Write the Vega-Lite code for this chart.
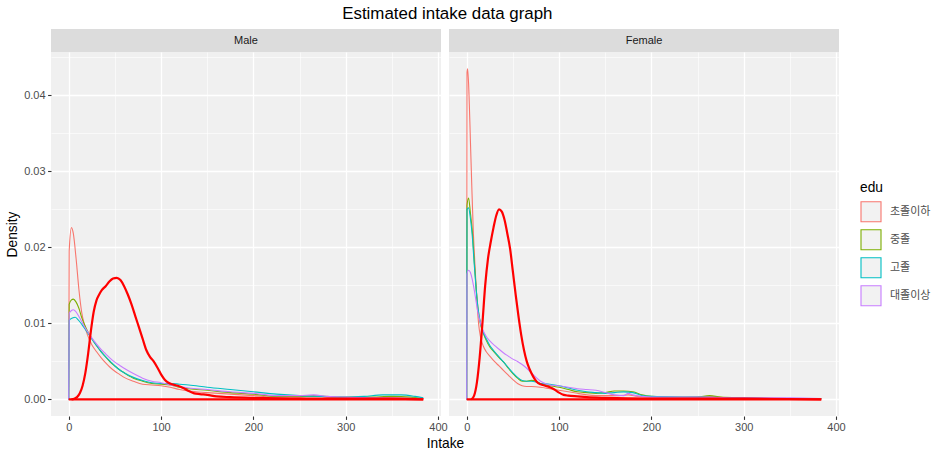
{
 "$schema": "https://vega.github.io/schema/vega-lite/v6.json",
 "padding": {"left": 5, "top": 5, "right": 5, "bottom": 5},
 "title": {"text": "Estimated intake data graph", "fontSize": 16.9, "font": "Liberation Sans", "fontWeight": "normal", "color": "black", "anchor": "middle", "offset": 6, "dx": -21},
 "config": {
  "view": {"stroke": null},
  "font": "Liberation Sans",
  "axis": {"gridColor": "white", "domain": false, "tickColor": "#333333", "tickSize": 3.4, "tickWidth": 1.1, "labelColor": "#4D4D4D", "labelFontSize": 11, "labelFont": "Liberation Sans", "labelPadding": 2.5, "titleFontSize": 13.75, "titleColor": "black", "titleFontWeight": "normal", "titleFont": "Liberation Sans"},
  "legend": {"orient": "none", "legendX": 809, "legendY": 152, "padding": 0, "titleFontSize": 13.75, "titleFont": "Liberation Sans", "titleFontWeight": "normal", "titleColor": "black", "titlePadding": 6, "labelFont": "Noto Sans CJK KR", "labelFontSize": 11, "labelColor": "#4D4D4D", "symbolType": "square", "symbolSize": 400, "symbolStrokeWidth": 1.1, "symbolFillColor": "#F2F2F2", "symbolOpacity": 1, "rowPadding": 2, "labelOffset": 8}
 },
 "datasets": {
  "base": [{"sex": "Male", "x": 0, "x2": 384, "d": 0}, {"sex": "Female", "x": 0, "x2": 384, "d": 0}],
  "edu": [
   {"sex":"Male","edu":"초졸이하","x":0,"d":0},{"sex":"Male","edu":"초졸이하","x":0.5,"d":0.0195},{"sex":"Male","edu":"초졸이하","x":3,"d":0.0226},{"sex":"Male","edu":"초졸이하","x":5,"d":0.0218},{"sex":"Male","edu":"초졸이하","x":8,"d":0.0185},{"sex":"Male","edu":"초졸이하","x":11,"d":0.0145},{"sex":"Male","edu":"초졸이하","x":14,"d":0.0115},{"sex":"Male","edu":"초졸이하","x":17,"d":0.0098},{"sex":"Male","edu":"초졸이하","x":20,"d":0.0086},{"sex":"Male","edu":"초졸이하","x":25,"d":0.0072},{"sex":"Male","edu":"초졸이하","x":30,"d":0.0063},{"sex":"Male","edu":"초졸이하","x":35,"d":0.0055},{"sex":"Male","edu":"초졸이하","x":40,"d":0.0048},{"sex":"Male","edu":"초졸이하","x":45,"d":0.0042},{"sex":"Male","edu":"초졸이하","x":50,"d":0.0037},{"sex":"Male","edu":"초졸이하","x":55,"d":0.0033},{"sex":"Male","edu":"초졸이하","x":60,"d":0.0029},{"sex":"Male","edu":"초졸이하","x":70,"d":0.0024},{"sex":"Male","edu":"초졸이하","x":80,"d":0.002},{"sex":"Male","edu":"초졸이하","x":90,"d":0.0019},{"sex":"Male","edu":"초졸이하","x":100,"d":0.0018},{"sex":"Male","edu":"초졸이하","x":110,"d":0.0016},{"sex":"Male","edu":"초졸이하","x":120,"d":0.0013},{"sex":"Male","edu":"초졸이하","x":130,"d":0.0011},{"sex":"Male","edu":"초졸이하","x":150,"d":0.0009},{"sex":"Male","edu":"초졸이하","x":175,"d":0.0007},{"sex":"Male","edu":"초졸이하","x":200,"d":0.0005},{"sex":"Male","edu":"초졸이하","x":225,"d":0.0003},{"sex":"Male","edu":"초졸이하","x":250,"d":0.0003},{"sex":"Male","edu":"초졸이하","x":265,"d":0.0005},{"sex":"Male","edu":"초졸이하","x":280,"d":0.0003},{"sex":"Male","edu":"초졸이하","x":300,"d":0.0002},{"sex":"Male","edu":"초졸이하","x":340,"d":0.0002},{"sex":"Male","edu":"초졸이하","x":384,"d":0.0001},
   {"sex":"Male","edu":"중졸","x":0,"d":0},{"sex":"Male","edu":"중졸","x":0.5,"d":0.0125},{"sex":"Male","edu":"중졸","x":3,"d":0.0131},{"sex":"Male","edu":"중졸","x":5,"d":0.0132},{"sex":"Male","edu":"중졸","x":8,"d":0.0128},{"sex":"Male","edu":"중졸","x":11,"d":0.012},{"sex":"Male","edu":"중졸","x":14,"d":0.0108},{"sex":"Male","edu":"중졸","x":18,"d":0.0096},{"sex":"Male","edu":"중졸","x":22,"d":0.0086},{"sex":"Male","edu":"중졸","x":26,"d":0.0078},{"sex":"Male","edu":"중졸","x":30,"d":0.0071},{"sex":"Male","edu":"중졸","x":35,"d":0.0063},{"sex":"Male","edu":"중졸","x":40,"d":0.0056},{"sex":"Male","edu":"중졸","x":45,"d":0.0049},{"sex":"Male","edu":"중졸","x":50,"d":0.0044},{"sex":"Male","edu":"중졸","x":55,"d":0.0039},{"sex":"Male","edu":"중졸","x":60,"d":0.0035},{"sex":"Male","edu":"중졸","x":65,"d":0.0031},{"sex":"Male","edu":"중졸","x":70,"d":0.0028},{"sex":"Male","edu":"중졸","x":80,"d":0.0024},{"sex":"Male","edu":"중졸","x":90,"d":0.0021},{"sex":"Male","edu":"중졸","x":100,"d":0.002},{"sex":"Male","edu":"중졸","x":110,"d":0.0019},{"sex":"Male","edu":"중졸","x":120,"d":0.0016},{"sex":"Male","edu":"중졸","x":130,"d":0.0014},{"sex":"Male","edu":"중졸","x":150,"d":0.0012},{"sex":"Male","edu":"중졸","x":175,"d":0.0009},{"sex":"Male","edu":"중졸","x":200,"d":0.0007},{"sex":"Male","edu":"중졸","x":225,"d":0.0004},{"sex":"Male","edu":"중졸","x":250,"d":0.0004},{"sex":"Male","edu":"중졸","x":275,"d":0.0004},{"sex":"Male","edu":"중졸","x":300,"d":0.0003},{"sex":"Male","edu":"중졸","x":325,"d":0.0003},{"sex":"Male","edu":"중졸","x":350,"d":0.0004},{"sex":"Male","edu":"중졸","x":370,"d":0.0003},{"sex":"Male","edu":"중졸","x":384,"d":0.0001},
   {"sex":"Male","edu":"고졸","x":0,"d":0},{"sex":"Male","edu":"고졸","x":0.5,"d":0.0104},{"sex":"Male","edu":"고졸","x":4,"d":0.0107},{"sex":"Male","edu":"고졸","x":7,"d":0.0108},{"sex":"Male","edu":"고졸","x":10,"d":0.0105},{"sex":"Male","edu":"고졸","x":14,"d":0.0099},{"sex":"Male","edu":"고졸","x":18,"d":0.0092},{"sex":"Male","edu":"고졸","x":22,"d":0.0085},{"sex":"Male","edu":"고졸","x":26,"d":0.0078},{"sex":"Male","edu":"고졸","x":30,"d":0.0071},{"sex":"Male","edu":"고졸","x":35,"d":0.0063},{"sex":"Male","edu":"고졸","x":40,"d":0.0056},{"sex":"Male","edu":"고졸","x":45,"d":0.005},{"sex":"Male","edu":"고졸","x":50,"d":0.0044},{"sex":"Male","edu":"고졸","x":55,"d":0.0039},{"sex":"Male","edu":"고졸","x":60,"d":0.0035},{"sex":"Male","edu":"고졸","x":70,"d":0.0029},{"sex":"Male","edu":"고졸","x":80,"d":0.0025},{"sex":"Male","edu":"고졸","x":90,"d":0.0022},{"sex":"Male","edu":"고졸","x":100,"d":0.0021},{"sex":"Male","edu":"고졸","x":110,"d":0.0021},{"sex":"Male","edu":"고졸","x":120,"d":0.002},{"sex":"Male","edu":"고졸","x":130,"d":0.0019},{"sex":"Male","edu":"고졸","x":150,"d":0.0016},{"sex":"Male","edu":"고졸","x":175,"d":0.0013},{"sex":"Male","edu":"고졸","x":200,"d":0.001},{"sex":"Male","edu":"고졸","x":225,"d":0.0007},{"sex":"Male","edu":"고졸","x":250,"d":0.0005},{"sex":"Male","edu":"고졸","x":275,"d":0.0004},{"sex":"Male","edu":"고졸","x":300,"d":0.0003},{"sex":"Male","edu":"고졸","x":320,"d":0.0004},{"sex":"Male","edu":"고졸","x":340,"d":0.0006},{"sex":"Male","edu":"고졸","x":360,"d":0.0006},{"sex":"Male","edu":"고졸","x":375,"d":0.0004},{"sex":"Male","edu":"고졸","x":384,"d":0.0002},
   {"sex":"Male","edu":"대졸이상","x":0,"d":0},{"sex":"Male","edu":"대졸이상","x":0.5,"d":0.0113},{"sex":"Male","edu":"대졸이상","x":3,"d":0.0117},{"sex":"Male","edu":"대졸이상","x":5,"d":0.0118},{"sex":"Male","edu":"대졸이상","x":8,"d":0.0115},{"sex":"Male","edu":"대졸이상","x":12,"d":0.0107},{"sex":"Male","edu":"대졸이상","x":16,"d":0.0098},{"sex":"Male","edu":"대졸이상","x":20,"d":0.009},{"sex":"Male","edu":"대졸이상","x":25,"d":0.0081},{"sex":"Male","edu":"대졸이상","x":30,"d":0.0073},{"sex":"Male","edu":"대졸이상","x":35,"d":0.0066},{"sex":"Male","edu":"대졸이상","x":40,"d":0.006},{"sex":"Male","edu":"대졸이상","x":45,"d":0.0054},{"sex":"Male","edu":"대졸이상","x":50,"d":0.0049},{"sex":"Male","edu":"대졸이상","x":55,"d":0.0045},{"sex":"Male","edu":"대졸이상","x":60,"d":0.0041},{"sex":"Male","edu":"대졸이상","x":70,"d":0.0034},{"sex":"Male","edu":"대졸이상","x":80,"d":0.0028},{"sex":"Male","edu":"대졸이상","x":90,"d":0.0024},{"sex":"Male","edu":"대졸이상","x":100,"d":0.0022},{"sex":"Male","edu":"대졸이상","x":110,"d":0.0019},{"sex":"Male","edu":"대졸이상","x":120,"d":0.0017},{"sex":"Male","edu":"대졸이상","x":130,"d":0.0015},{"sex":"Male","edu":"대졸이상","x":150,"d":0.0013},{"sex":"Male","edu":"대졸이상","x":175,"d":0.001},{"sex":"Male","edu":"대졸이상","x":200,"d":0.0008},{"sex":"Male","edu":"대졸이상","x":225,"d":0.0005},{"sex":"Male","edu":"대졸이상","x":250,"d":0.0005},{"sex":"Male","edu":"대졸이상","x":265,"d":0.0006},{"sex":"Male","edu":"대졸이상","x":280,"d":0.0004},{"sex":"Male","edu":"대졸이상","x":300,"d":0.0003},{"sex":"Male","edu":"대졸이상","x":340,"d":0.0002},{"sex":"Male","edu":"대졸이상","x":384,"d":0.0001},
   {"sex":"Female","edu":"초졸이하","x":0,"d":0},{"sex":"Female","edu":"초졸이하","x":0.3,"d":0.043},{"sex":"Female","edu":"초졸이하","x":1,"d":0.0435},{"sex":"Female","edu":"초졸이하","x":2.5,"d":0.04},{"sex":"Female","edu":"초졸이하","x":4,"d":0.034},{"sex":"Female","edu":"초졸이하","x":5.5,"d":0.028},{"sex":"Female","edu":"초졸이하","x":7,"d":0.0225},{"sex":"Female","edu":"초졸이하","x":9,"d":0.0175},{"sex":"Female","edu":"초졸이하","x":11,"d":0.013},{"sex":"Female","edu":"초졸이하","x":13,"d":0.0098},{"sex":"Female","edu":"초졸이하","x":15,"d":0.0082},{"sex":"Female","edu":"초졸이하","x":18,"d":0.007},{"sex":"Female","edu":"초졸이하","x":21,"d":0.0063},{"sex":"Female","edu":"초졸이하","x":25,"d":0.0057},{"sex":"Female","edu":"초졸이하","x":30,"d":0.005},{"sex":"Female","edu":"초졸이하","x":35,"d":0.0044},{"sex":"Female","edu":"초졸이하","x":40,"d":0.0038},{"sex":"Female","edu":"초졸이하","x":45,"d":0.0032},{"sex":"Female","edu":"초졸이하","x":50,"d":0.0026},{"sex":"Female","edu":"초졸이하","x":55,"d":0.0021},{"sex":"Female","edu":"초졸이하","x":60,"d":0.0018},{"sex":"Female","edu":"초졸이하","x":65,"d":0.0017},{"sex":"Female","edu":"초졸이하","x":70,"d":0.0017},{"sex":"Female","edu":"초졸이하","x":80,"d":0.0016},{"sex":"Female","edu":"초졸이하","x":90,"d":0.0014},{"sex":"Female","edu":"초졸이하","x":100,"d":0.0012},{"sex":"Female","edu":"초졸이하","x":110,"d":0.001},{"sex":"Female","edu":"초졸이하","x":120,"d":0.0008},{"sex":"Female","edu":"초졸이하","x":130,"d":0.0006},{"sex":"Female","edu":"초졸이하","x":140,"d":0.0005},{"sex":"Female","edu":"초졸이하","x":150,"d":0.0005},{"sex":"Female","edu":"초졸이하","x":165,"d":0.0005},{"sex":"Female","edu":"초졸이하","x":175,"d":0.0006},{"sex":"Female","edu":"초졸이하","x":185,"d":0.0004},{"sex":"Female","edu":"초졸이하","x":200,"d":0.0003},{"sex":"Female","edu":"초졸이하","x":230,"d":0.0002},{"sex":"Female","edu":"초졸이하","x":265,"d":0.0004},{"sex":"Female","edu":"초졸이하","x":280,"d":0.0002},{"sex":"Female","edu":"초졸이하","x":300,"d":0.0002},{"sex":"Female","edu":"초졸이하","x":350,"d":0.0001},{"sex":"Female","edu":"초졸이하","x":384,"d":0.0001},
   {"sex":"Female","edu":"중졸","x":0,"d":0},{"sex":"Female","edu":"중졸","x":0.3,"d":0.0255},{"sex":"Female","edu":"중졸","x":2,"d":0.0265},{"sex":"Female","edu":"중졸","x":4,"d":0.0245},{"sex":"Female","edu":"중졸","x":6,"d":0.0222},{"sex":"Female","edu":"중졸","x":8,"d":0.0185},{"sex":"Female","edu":"중졸","x":10,"d":0.015},{"sex":"Female","edu":"중졸","x":12,"d":0.0122},{"sex":"Female","edu":"중졸","x":15,"d":0.0098},{"sex":"Female","edu":"중졸","x":18,"d":0.0087},{"sex":"Female","edu":"중졸","x":21,"d":0.0078},{"sex":"Female","edu":"중졸","x":25,"d":0.0069},{"sex":"Female","edu":"중졸","x":30,"d":0.0062},{"sex":"Female","edu":"중졸","x":35,"d":0.0055},{"sex":"Female","edu":"중졸","x":40,"d":0.0049},{"sex":"Female","edu":"중졸","x":45,"d":0.0041},{"sex":"Female","edu":"중졸","x":50,"d":0.0034},{"sex":"Female","edu":"중졸","x":55,"d":0.0028},{"sex":"Female","edu":"중졸","x":60,"d":0.0024},{"sex":"Female","edu":"중졸","x":65,"d":0.0024},{"sex":"Female","edu":"중졸","x":70,"d":0.0025},{"sex":"Female","edu":"중졸","x":75,"d":0.0024},{"sex":"Female","edu":"중졸","x":80,"d":0.0021},{"sex":"Female","edu":"중졸","x":90,"d":0.0018},{"sex":"Female","edu":"중졸","x":100,"d":0.0016},{"sex":"Female","edu":"중졸","x":110,"d":0.0013},{"sex":"Female","edu":"중졸","x":120,"d":0.001},{"sex":"Female","edu":"중졸","x":130,"d":0.0009},{"sex":"Female","edu":"중졸","x":140,"d":0.0008},{"sex":"Female","edu":"중졸","x":150,"d":0.0009},{"sex":"Female","edu":"중졸","x":160,"d":0.0011},{"sex":"Female","edu":"중졸","x":170,"d":0.0011},{"sex":"Female","edu":"중졸","x":180,"d":0.001},{"sex":"Female","edu":"중졸","x":190,"d":0.0006},{"sex":"Female","edu":"중졸","x":200,"d":0.0004},{"sex":"Female","edu":"중졸","x":220,"d":0.0003},{"sex":"Female","edu":"중졸","x":250,"d":0.0003},{"sex":"Female","edu":"중졸","x":263,"d":0.0005},{"sex":"Female","edu":"중졸","x":275,"d":0.0003},{"sex":"Female","edu":"중졸","x":300,"d":0.0002},{"sex":"Female","edu":"중졸","x":350,"d":0.0001},{"sex":"Female","edu":"중졸","x":384,"d":0.0001},
   {"sex":"Female","edu":"고졸","x":0,"d":0},{"sex":"Female","edu":"고졸","x":0.3,"d":0.025},{"sex":"Female","edu":"고졸","x":2,"d":0.0252},{"sex":"Female","edu":"고졸","x":4,"d":0.0238},{"sex":"Female","edu":"고졸","x":6,"d":0.0215},{"sex":"Female","edu":"고졸","x":8,"d":0.018},{"sex":"Female","edu":"고졸","x":10,"d":0.0148},{"sex":"Female","edu":"고졸","x":12,"d":0.0122},{"sex":"Female","edu":"고졸","x":15,"d":0.01},{"sex":"Female","edu":"고졸","x":18,"d":0.0088},{"sex":"Female","edu":"고졸","x":21,"d":0.008},{"sex":"Female","edu":"고졸","x":25,"d":0.0071},{"sex":"Female","edu":"고졸","x":30,"d":0.0063},{"sex":"Female","edu":"고졸","x":35,"d":0.0056},{"sex":"Female","edu":"고졸","x":40,"d":0.0049},{"sex":"Female","edu":"고졸","x":45,"d":0.0042},{"sex":"Female","edu":"고졸","x":50,"d":0.0035},{"sex":"Female","edu":"고졸","x":55,"d":0.0029},{"sex":"Female","edu":"고졸","x":60,"d":0.0025},{"sex":"Female","edu":"고졸","x":65,"d":0.0024},{"sex":"Female","edu":"고졸","x":70,"d":0.0024},{"sex":"Female","edu":"고졸","x":75,"d":0.0023},{"sex":"Female","edu":"고졸","x":80,"d":0.0021},{"sex":"Female","edu":"고졸","x":90,"d":0.002},{"sex":"Female","edu":"고졸","x":100,"d":0.0018},{"sex":"Female","edu":"고졸","x":110,"d":0.0015},{"sex":"Female","edu":"고졸","x":120,"d":0.0012},{"sex":"Female","edu":"고졸","x":130,"d":0.001},{"sex":"Female","edu":"고졸","x":140,"d":0.0009},{"sex":"Female","edu":"고졸","x":150,"d":0.0008},{"sex":"Female","edu":"고졸","x":160,"d":0.0009},{"sex":"Female","edu":"고졸","x":170,"d":0.001},{"sex":"Female","edu":"고졸","x":180,"d":0.0009},{"sex":"Female","edu":"고졸","x":190,"d":0.0005},{"sex":"Female","edu":"고졸","x":200,"d":0.0004},{"sex":"Female","edu":"고졸","x":250,"d":0.0003},{"sex":"Female","edu":"고졸","x":300,"d":0.0002},{"sex":"Female","edu":"고졸","x":350,"d":0.0001},{"sex":"Female","edu":"고졸","x":384,"d":0.0001},
   {"sex":"Female","edu":"대졸이상","x":0,"d":0},{"sex":"Female","edu":"대졸이상","x":0.3,"d":0.0165},{"sex":"Female","edu":"대졸이상","x":2,"d":0.017},{"sex":"Female","edu":"대졸이상","x":4,"d":0.0167},{"sex":"Female","edu":"대졸이상","x":6,"d":0.0158},{"sex":"Female","edu":"대졸이상","x":8,"d":0.0145},{"sex":"Female","edu":"대졸이상","x":10,"d":0.013},{"sex":"Female","edu":"대졸이상","x":12,"d":0.0115},{"sex":"Female","edu":"대졸이상","x":15,"d":0.01},{"sex":"Female","edu":"대졸이상","x":18,"d":0.009},{"sex":"Female","edu":"대졸이상","x":21,"d":0.0083},{"sex":"Female","edu":"대졸이상","x":25,"d":0.0077},{"sex":"Female","edu":"대졸이상","x":30,"d":0.0071},{"sex":"Female","edu":"대졸이상","x":35,"d":0.0066},{"sex":"Female","edu":"대졸이상","x":40,"d":0.0061},{"sex":"Female","edu":"대졸이상","x":45,"d":0.0057},{"sex":"Female","edu":"대졸이상","x":50,"d":0.0053},{"sex":"Female","edu":"대졸이상","x":55,"d":0.005},{"sex":"Female","edu":"대졸이상","x":60,"d":0.0046},{"sex":"Female","edu":"대졸이상","x":65,"d":0.0041},{"sex":"Female","edu":"대졸이상","x":70,"d":0.0035},{"sex":"Female","edu":"대졸이상","x":75,"d":0.0029},{"sex":"Female","edu":"대졸이상","x":80,"d":0.0024},{"sex":"Female","edu":"대졸이상","x":85,"d":0.0021},{"sex":"Female","edu":"대졸이상","x":90,"d":0.0019},{"sex":"Female","edu":"대졸이상","x":100,"d":0.0018},{"sex":"Female","edu":"대졸이상","x":110,"d":0.0016},{"sex":"Female","edu":"대졸이상","x":120,"d":0.0014},{"sex":"Female","edu":"대졸이상","x":130,"d":0.0013},{"sex":"Female","edu":"대졸이상","x":140,"d":0.0012},{"sex":"Female","edu":"대졸이상","x":150,"d":0.0009},{"sex":"Female","edu":"대졸이상","x":160,"d":0.0006},{"sex":"Female","edu":"대졸이상","x":170,"d":0.0005},{"sex":"Female","edu":"대졸이상","x":175,"d":0.0008},{"sex":"Female","edu":"대졸이상","x":180,"d":0.0006},{"sex":"Female","edu":"대졸이상","x":190,"d":0.0004},{"sex":"Female","edu":"대졸이상","x":200,"d":0.0003},{"sex":"Female","edu":"대졸이상","x":250,"d":0.0003},{"sex":"Female","edu":"대졸이상","x":300,"d":0.0002},{"sex":"Female","edu":"대졸이상","x":350,"d":0.0002},{"sex":"Female","edu":"대졸이상","x":384,"d":0.0001}
  ],
  "est": [
   {"sex":"Male","x":3,"d":0},{"sex":"Male","x":6,"d":0.0001},{"sex":"Male","x":9,"d":0.0003},{"sex":"Male","x":12,"d":0.0008},{"sex":"Male","x":15,"d":0.0018},{"sex":"Male","x":18,"d":0.0035},{"sex":"Male","x":21,"d":0.006},{"sex":"Male","x":24,"d":0.009},{"sex":"Male","x":27,"d":0.0115},{"sex":"Male","x":30,"d":0.013},{"sex":"Male","x":33,"d":0.0138},{"sex":"Male","x":36,"d":0.0144},{"sex":"Male","x":40,"d":0.0149},{"sex":"Male","x":44,"d":0.0155},{"sex":"Male","x":48,"d":0.0159},{"sex":"Male","x":52,"d":0.016},{"sex":"Male","x":56,"d":0.0157},{"sex":"Male","x":60,"d":0.0149},{"sex":"Male","x":64,"d":0.0138},{"sex":"Male","x":68,"d":0.0125},{"sex":"Male","x":72,"d":0.011},{"sex":"Male","x":76,"d":0.0095},{"sex":"Male","x":80,"d":0.008},{"sex":"Male","x":84,"d":0.0065},{"sex":"Male","x":88,"d":0.0056},{"sex":"Male","x":92,"d":0.005},{"sex":"Male","x":96,"d":0.0042},{"sex":"Male","x":100,"d":0.0033},{"sex":"Male","x":104,"d":0.0026},{"sex":"Male","x":108,"d":0.0022},{"sex":"Male","x":112,"d":0.002},{"sex":"Male","x":118,"d":0.0018},{"sex":"Male","x":124,"d":0.0015},{"sex":"Male","x":130,"d":0.0011},{"sex":"Male","x":136,"d":0.0008},{"sex":"Male","x":142,"d":0.0007},{"sex":"Male","x":150,"d":0.0006},{"sex":"Male","x":160,"d":0.0004},{"sex":"Male","x":175,"d":0.0003},{"sex":"Male","x":200,"d":0.0002},{"sex":"Male","x":250,"d":0.0001},{"sex":"Male","x":300,"d":0.0001},{"sex":"Male","x":350,"d":0.0001},{"sex":"Male","x":384,"d":0},
   {"sex":"Female","x":5,"d":0},{"sex":"Female","x":8,"d":0.0005},{"sex":"Female","x":11,"d":0.0022},{"sex":"Female","x":14,"d":0.0055},{"sex":"Female","x":17,"d":0.01},{"sex":"Female","x":20,"d":0.015},{"sex":"Female","x":23,"d":0.0185},{"sex":"Female","x":26,"d":0.0207},{"sex":"Female","x":29,"d":0.0226},{"sex":"Female","x":32,"d":0.0242},{"sex":"Female","x":35,"d":0.025},{"sex":"Female","x":38,"d":0.0247},{"sex":"Female","x":41,"d":0.0236},{"sex":"Female","x":44,"d":0.0218},{"sex":"Female","x":47,"d":0.0198},{"sex":"Female","x":50,"d":0.0168},{"sex":"Female","x":53,"d":0.0138},{"sex":"Female","x":56,"d":0.011},{"sex":"Female","x":59,"d":0.0085},{"sex":"Female","x":62,"d":0.0065},{"sex":"Female","x":65,"d":0.005},{"sex":"Female","x":68,"d":0.004},{"sex":"Female","x":72,"d":0.003},{"sex":"Female","x":76,"d":0.0023},{"sex":"Female","x":80,"d":0.002},{"sex":"Female","x":85,"d":0.0018},{"sex":"Female","x":90,"d":0.0016},{"sex":"Female","x":95,"d":0.0013},{"sex":"Female","x":100,"d":0.0009},{"sex":"Female","x":105,"d":0.0006},{"sex":"Female","x":110,"d":0.0005},{"sex":"Female","x":120,"d":0.0004},{"sex":"Female","x":130,"d":0.0003},{"sex":"Female","x":150,"d":0.0002},{"sex":"Female","x":200,"d":0.0001},{"sex":"Female","x":300,"d":0.0001},{"sex":"Female","x":384,"d":0}
  ]
 },
 "columns": 2,
 "spacing": {"row": 0, "column": 8},
 "bounds": "flush",
 "concat": [
  {"width": 390, "height": 23, "data": {"values": [{"s": "Male"}]}, "view": {"fill": "#DCDCDC", "stroke": null},
   "mark": {"type": "text", "fontSize": 11, "color": "#1A1A1A", "font": "Liberation Sans"}, "encoding": {"text": {"field": "s"}}},
  {"width": 390, "height": 23, "data": {"values": [{"s": "Female"}]}, "view": {"fill": "#DCDCDC", "stroke": null},
   "mark": {"type": "text", "fontSize": 11, "color": "#1A1A1A", "font": "Liberation Sans"}, "encoding": {"text": {"field": "s"}}},
  {"width": 390, "height": 364, "view": {"fill": "#F0F0F0", "stroke": null},
   "encoding": {
    "x": {"field": "x", "type": "quantitative", "scale": {"domain": [-19.2, 403.2], "nice": false, "zero": false},
      "axis": {"title": "Intake", "titleX": 394, "titlePadding": 4, "values": [0,50,100,150,200,250,300,350,400], "labelExpr": "datum.value % 100 === 0 ? datum.label : ''", "gridWidth": {"condition": {"test": "datum.value % 100 === 0", "value": 1.3}, "value": 0.6}, "tickOpacity": {"condition": {"test": "datum.value % 100 === 0", "value": 1}, "value": 0}}},
    "y": {"field": "d", "type": "quantitative", "scale": {"domain": [-0.00218, 0.0457], "nice": false, "zero": false},
      "axis": {"title": "Density", "titlePadding": 4, "format": ".2f", "values": [0,0.005,0.01,0.015,0.02,0.025,0.03,0.035,0.04,0.045], "labelExpr": "round(datum.value*1000) % 10 === 0 ? datum.label : ''", "gridWidth": {"condition": {"test": "round(datum.value*1000) % 10 === 0", "value": 1.3}, "value": 0.6}, "tickOpacity": {"condition": {"test": "round(datum.value*1000) % 10 === 0", "value": 1}, "value": 0}}}
   },
   "layer": [
    {"data": {"name": "edu"}, "transform": [{"filter": "datum.sex === 'Male'"}],
     "mark": {"type": "line", "strokeWidth": 1.1, "interpolate": "monotone"},
     "encoding": {"color": {"field": "edu", "type": "nominal", "title": "edu", "scale": {"domain": ["초졸이하","중졸","고졸","대졸이상"], "range": ["#F8766D","#7CAE00","#00BFC4","#C77CFF"]}}}},
    {"data": {"name": "est"}, "transform": [{"filter": "datum.sex === 'Male'"}],
     "mark": {"type": "line", "strokeWidth": 2.2, "color": "#FF0000", "interpolate": "monotone"}},
    {"data": {"name": "base"}, "transform": [{"filter": "datum.sex === 'Male'"}],
     "mark": {"type": "rule", "strokeWidth": 2.2, "color": "#FF0000"},
     "encoding": {"x2": {"field": "x2"}}}
   ]
  },
  {"width": 390, "height": 364, "view": {"fill": "#F0F0F0", "stroke": null},
   "encoding": {
    "x": {"field": "x", "type": "quantitative", "scale": {"domain": [-19.2, 403.2], "nice": false, "zero": false},
      "axis": {"title": null, "values": [0,50,100,150,200,250,300,350,400], "labelExpr": "datum.value % 100 === 0 ? datum.label : ''", "gridWidth": {"condition": {"test": "datum.value % 100 === 0", "value": 1.3}, "value": 0.6}, "tickOpacity": {"condition": {"test": "datum.value % 100 === 0", "value": 1}, "value": 0}}},
    "y": {"field": "d", "type": "quantitative", "scale": {"domain": [-0.00218, 0.0457], "nice": false, "zero": false},
      "axis": {"title": null, "labels": false, "ticks": false, "values": [0,0.005,0.01,0.015,0.02,0.025,0.03,0.035,0.04,0.045], "gridWidth": {"condition": {"test": "round(datum.value*1000) % 10 === 0", "value": 1.3}, "value": 0.6}}}
   },
   "layer": [
    {"data": {"name": "edu"}, "transform": [{"filter": "datum.sex === 'Female'"}],
     "mark": {"type": "line", "strokeWidth": 1.1, "interpolate": "monotone"},
     "encoding": {"color": {"field": "edu", "type": "nominal", "title": "edu", "scale": {"domain": ["초졸이하","중졸","고졸","대졸이상"], "range": ["#F8766D","#7CAE00","#00BFC4","#C77CFF"]}}}},
    {"data": {"name": "est"}, "transform": [{"filter": "datum.sex === 'Female'"}],
     "mark": {"type": "line", "strokeWidth": 2.2, "color": "#FF0000", "interpolate": "monotone"}},
    {"data": {"name": "base"}, "transform": [{"filter": "datum.sex === 'Female'"}],
     "mark": {"type": "rule", "strokeWidth": 2.2, "color": "#FF0000"},
     "encoding": {"x2": {"field": "x2"}}}
   ]
  }
 ]
}
